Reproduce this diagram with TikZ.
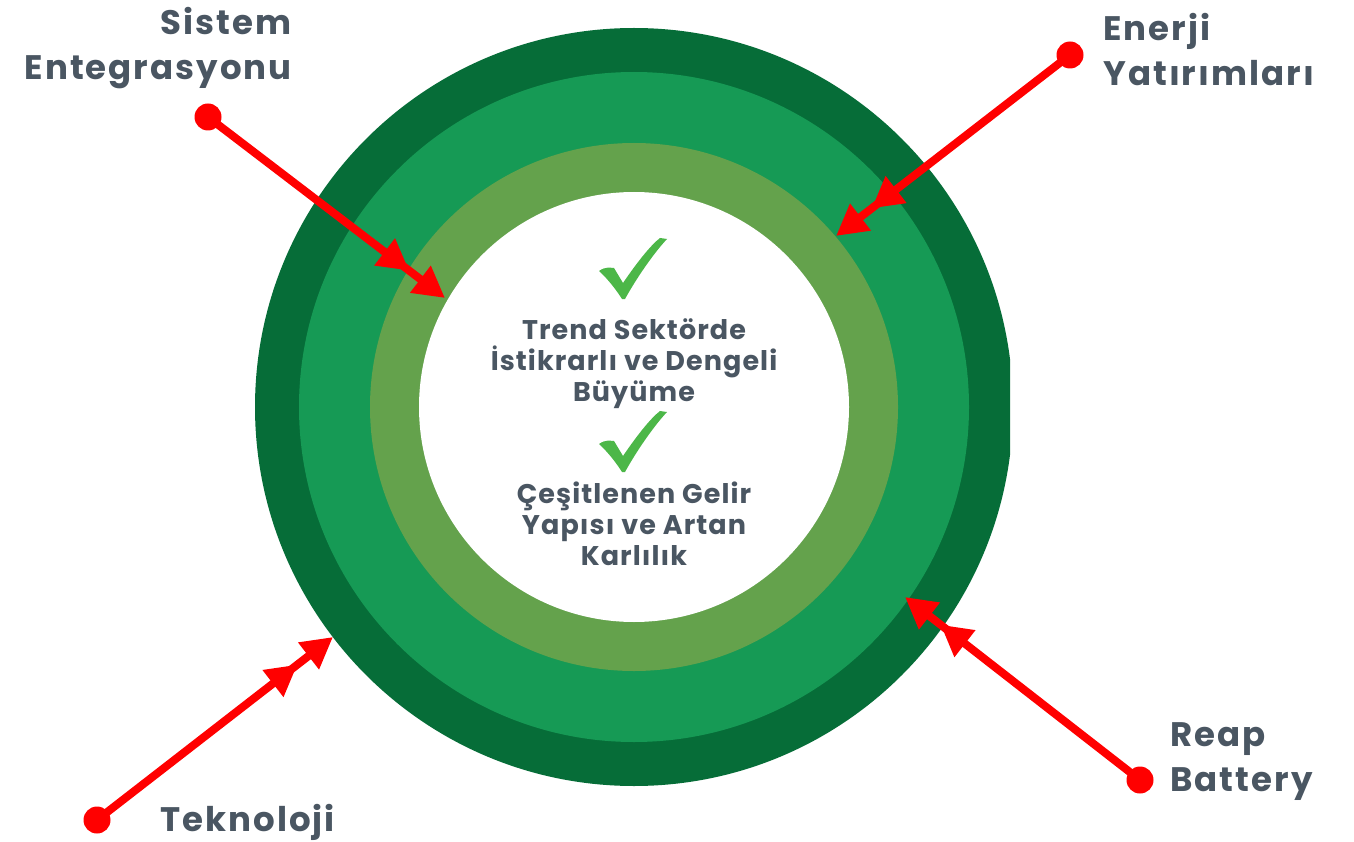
\documentclass[tikz,border=0pt]{standalone}
\usepackage{fontspec}
\setmainfont{Poppins}
\usetikzlibrary{arrows.meta}
\definecolor{darkg}{HTML}{066D38}
\definecolor{midg}{HTML}{169A55}
\definecolor{oliveg}{HTML}{64A24C}
\definecolor{checkg}{HTML}{4CB748}
\definecolor{txt}{HTML}{4A5662}
\definecolor{arrred}{HTML}{FF0000}
\tikzset{
  dot/.style={circle,fill=arrred,minimum size=27pt,inner sep=0pt},
  arr/.style={draw=arrred,line width=8pt,
    -{Triangle[length=31pt,width=32pt,sep=14pt]Triangle[length=31pt,width=32pt]}},
  lbl/.style={text=txt,font=\fontsize{34}{45}\selectfont\bfseries\addfontfeature{LetterSpace=6},inner sep=0pt},
  ctr/.style={text=txt,font=\fontsize{27}{31}\selectfont\bfseries\addfontfeature{LetterSpace=4},align=center,inner sep=0pt},
  checkmark/.pic={\fill[checkg] (-34,2) .. controls (-27,-3) and (-22,-1) .. (-19,-1)
     -- (-10,14) .. controls (5,-8) and (18,-24) .. (27,-31) -- (34,-30)
     .. controls (20,-15) and (3,10) .. (-8,30) -- (-11,30)
     .. controls (-16,22) and (-25,10) .. cycle;}
}
\begin{document}
\begin{tikzpicture}[x=1pt,y=-1pt]
\useasboundingbox (0,0) rectangle (1354,842);
\begin{scope}
\clip (0,0) rectangle (1010,842);
\fill[darkg] (634,407) circle (379pt);
\end{scope}
\fill[midg] (634,407) circle (335pt);
\fill[oliveg] (634,407) circle (264pt);
\fill[white] (634,407) circle (215pt);
\pic at (633,269) {checkmark};
\pic at (633,442) {checkmark};
\node[ctr] (c1) at (634,364) {Trend Sektörde\\İstikrarlı ve Dengeli\\Büyüme};
\node[ctr] (c2) at (634,524) {Çeşitlenen Gelir\\Yapısı ve Artan\\Karlılık};
\node[lbl,align=right,anchor=east] (l1) at (292,48) {Sistem\\Entegrasyonu};
\node[lbl,align=left,anchor=west] (l2) at (1103,50) {Enerji\\Yatırımları};
\node[lbl,align=left,anchor=west] (l3) at (1170,762) {Reap\\Battery};
\node[lbl,anchor=west] (l4) at (160,822) {Teknoloji};
\node[dot] (d1) at (208,117) {};
\node[dot] (d2) at (1070,55) {};
\node[dot] (d3) at (1140,780) {};
\node[dot] (d4) at (97,820) {};
\coordinate (t1) at (445,298);
\coordinate (t2) at (836,236);
\coordinate (t3) at (905,597);
\coordinate (t4) at (333,637);
\draw[arr] (d1.center) -- (t1);
\draw[arr] (d2.center) -- (t2);
\draw[arr] (d3.center) -- (t3);
\draw[arr] (d4.center) -- (t4);
\end{tikzpicture}
\end{document}
